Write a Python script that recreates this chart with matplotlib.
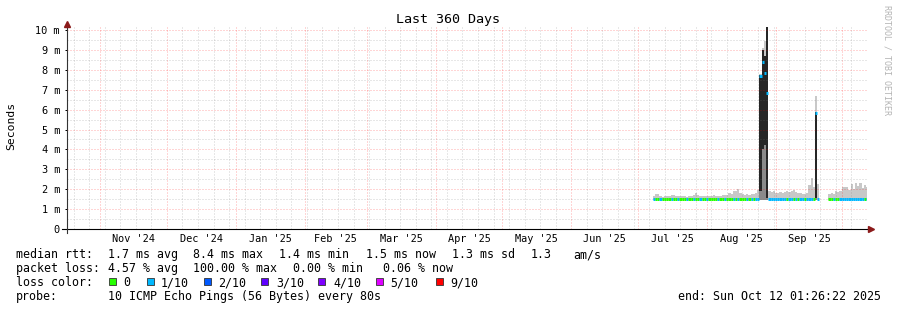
import numpy as np
import pandas as pd
import matplotlib
matplotlib.use("Agg")
import matplotlib.pyplot as plt
from matplotlib.patches import Rectangle

plt.rcParams["font.family"] = ["DejaVu Sans Mono"]

# graph time window
graph_end = pd.Timestamp("2025-10-12 01:26:22")
graph_start = graph_end - pd.Timedelta(days=360)

# consolidated samples, one per day, starting here
first_sample = pd.Timestamp("2025-07-07 16:00")

nan = np.nan

# median rtt (ms)
median_ms = [
    1.50, 1.50, 1.51, 1.50, 1.49, 1.50, 1.50, 1.50, 1.51, 1.50,
    1.50, 1.49, 1.50, 1.50, 1.50, 1.50, 1.51, 1.50, 1.50, 1.52,
    1.50, 1.50, 1.49, 1.50, 1.50, 1.50, 1.50, 1.51, 1.50, 1.50,
    1.50, 1.50, 1.51, 1.50, 1.51, 1.50, 1.52, 1.51, 1.52, 1.50,
    1.50, 1.50, 1.50, 1.49, 1.50, 1.50, 1.51, 1.52,
    7.70, 8.40, 7.85, 6.85,
    1.51, 1.50, 1.50, 1.50, 1.50, 1.50, 1.50, 1.51, 1.50, 1.50,
    1.51, 1.51, 1.50, 1.50, 1.50, 1.50, 1.49, 1.50, 1.51, 1.52,
    1.51, 5.85, 1.51,
    nan, nan, nan, nan,
    1.50, 1.50, 1.50, 1.51, 1.50, 1.51, 1.51, 1.52, 1.51, 1.50,
    1.52, 1.51, 1.52, 1.51, 1.52, 1.51, 1.51, 1.51,
]

# top of the smoke (max ping, ms)
smoke_hi_ms = [
    1.65, 1.75, 1.75, 1.65, 1.62, 1.65, 1.63, 1.65, 1.70, 1.68,
    1.64, 1.66, 1.63, 1.65, 1.64, 1.62, 1.67, 1.66, 1.68, 1.82,
    1.72, 1.66, 1.64, 1.67, 1.65, 1.63, 1.66, 1.68, 1.64, 1.66,
    1.65, 1.70, 1.72, 1.69, 1.78, 1.76, 1.92, 1.88, 1.98, 1.80,
    1.75, 1.72, 1.74, 1.70, 1.76, 1.74, 1.78, 1.95,
    7.80, 9.10, 9.45, 10.15,
    1.92, 1.85, 1.88, 1.80, 1.78, 1.84, 1.82, 1.86, 1.88, 1.84,
    1.90, 1.95, 1.86, 1.78, 1.80, 1.76, 1.74, 1.80, 2.20, 2.55,
    2.10, 6.70, 2.25,
    nan, nan, nan, nan,
    1.75, 1.78, 1.76, 1.90, 1.85, 1.92, 2.10, 2.12, 2.08, 1.95,
    2.25, 2.00, 2.30, 2.15, 2.28, 2.05, 2.20, 2.10,
]
smoke_lo_ms = 1.43

# lost pings out of 10
loss = [
    1, 0, 0, 1, 0, 0, 0, 0, 1, 0, 0, 1, 0, 0, 0, 1, 0, 0, 1, 0,
    0, 1, 0, 0, 1, 0, 0, 0, 0, 1, 0, 0, 1, 0, 0, 0, 1, 0, 1, 0,
    0, 0, 1, 0, 1, 0, 1, 1,
    1, 1, 1, 1,
    1, 1, 1, 1, 1, 1, 1, 1, 0, 1, 1, 0, 1, 0, 1, 1, 0, 1, 1, 1,
    0, 1, 1,
    0, 0, 0, 0,
    0, 0, 1, 0, 0, 1, 1, 1, 1, 1, 1, 1, 1, 1, 1, 1, 0, 1,
]

# dense smoke in the spikes
core_idx = [48, 49, 50, 51, 73]
core_lo_ms = [1.90, 4.00, 4.20, 1.55, 1.55]
core_hi_ms = [7.75, 9.00, 8.70, 10.15, 5.90]

loss_steps = [0, 1, 2, 3, 4, 5, 9]
loss_names = ["0", "1/10", "2/10", "3/10", "4/10", "5/10", "9/10"]
loss_colors = ["#26ff00", "#00b8ff", "#0059ff", "#5e00ff", "#7e00ff", "#dd00ff", "#ff0000"]

y_ticks = [0, 1, 2, 3, 4, 5, 6, 7, 8, 9, 10]
y_labels = ["0", "1 m", "2 m", "3 m", "4 m", "5 m", "6 m", "7 m", "8 m", "9 m", "10 m"]
month_starts = pd.date_range("2024-11-01", "2025-10-01", freq="MS")
month_labels = ["Nov '24", "Dec '24", "Jan '25", "Feb '25", "Mar '25", "Apr '25",
                "May '25", "Jun '25", "Jul '25", "Aug '25", "Sep '25"]
week_starts = pd.date_range("2024-10-20", "2025-10-12", freq="7D")


def days(t):
    return (t - graph_start) / pd.Timedelta(days=1)


W, H = 897, 310
fig = plt.figure(figsize=(W / 100, H / 100), dpi=100)
fig.patch.set_facecolor("white")
ax = fig.add_axes([67 / W, (H - 228.7) / H, 800 / W, (228.7 - 26) / H])
ax.set_xlim(0, 360)
ax.set_ylim(0, 10.22)
for s in ax.spines.values():
    s.set_visible(False)

x = days(first_sample) + np.arange(len(median_ms))
med = np.array(median_ms)
hi = np.array(smoke_hi_ms)

# smoke
ax.bar(x, hi - smoke_lo_ms, bottom=smoke_lo_ms, width=1.0, align="edge",
       color="#c8c8c8", linewidth=0, antialiased=False, zorder=1)
cx = x[core_idx]
ax.bar(cx, np.array(core_lo_ms) - smoke_lo_ms, bottom=smoke_lo_ms, width=1.0,
       align="edge", color="#8a8a8a", linewidth=0, antialiased=False, zorder=1.1)
ax.bar(cx, np.array(core_hi_ms) - np.array(core_lo_ms), bottom=core_lo_ms,
       width=1.0, align="edge", color="#262626", linewidth=0,
       antialiased=False, zorder=1.2)

# grid, dotted, drawn over the smoke (minor lines skipped under major ones)
mgrid = (1.0, 0.0, 0.0, 0.33)
grid = (0.45, 0.45, 0.45, 0.33)
dots = (0, (1, 2))
gkw = dict(lw=0.72, ls=dots, zorder=2)
for v in y_ticks:
    ax.axhline(v + 0.5, color=grid, **gkw)
month_days = [days(t) for t in month_starts]
for t in week_starts:
    d = days(t)
    if min(abs(d - m) for m in month_days) > 0.5:
        ax.axvline(d, color=grid, **gkw)
for v in y_ticks[1:]:
    ax.axhline(v, color=mgrid, **gkw)
for d in month_days:
    ax.axvline(d, color=mgrid, **gkw)

# median line coloured by loss
cols = []
for k in loss:
    c = loss_colors[0]
    for step, col in zip(loss_steps, loss_colors):
        if k >= step:
            c = col
    cols.append(c)
ax.hlines(med, x, x + 1.0, colors=cols, lw=2.16, zorder=3,
          capstyle="butt")

# axes with arrows
ax.plot([-5 / 800, 802 / 800], [0, 0], transform=ax.transAxes, color="black",
        lw=0.8, clip_on=False, zorder=4)
ax.plot([0, 0], [-0.02, 1.005], transform=ax.transAxes, color="#333333",
        lw=0.8, clip_on=False, zorder=4)
ax.plot([1.005], [0], marker=">", ms=4, color="#8b1a1a", transform=ax.transAxes,
        clip_on=False, zorder=5)
ax.plot([0], [1.012], marker="^", ms=4, color="#8b1a1a", transform=ax.transAxes,
        clip_on=False, zorder=5)

ax.set_yticks(y_ticks, y_labels)
ax.tick_params(axis="y", length=1.5, width=0.72, direction="out", pad=3.6,
               labelsize=7.4)
mids = [a + (b - a) / 2 for a, b in zip(month_days[:-1], month_days[1:])]
ax.set_xticks(mids, month_labels)
ax.tick_params(axis="x", length=0, pad=4.0, labelsize=7.4)

# titles
fig.text(448 / W, 1 - 19 / H, "Last 360 Days", ha="center", va="center", fontsize=9.6)
fig.text(11 / W, 1 - 126 / H, "Seconds", rotation=90, ha="center", va="center",
         fontsize=8.2)
fig.text(886.5 / W, 1 - 60 / H, "RRDTOOL / TOBI OETIKER", rotation=270,
         ha="center", va="center", fontsize=6, color="#b4b4b4")

# legend
def put(px, py, s):
    fig.text(px / W, 1 - py / H, s, ha="left", va="baseline", fontsize=8.4)


put(16, 258, "median rtt:")
for px, s in [(108, "1.7 ms avg"), (193, "8.4 ms max"), (279, "1.4 ms min"),
              (366, "1.5 ms now"), (452, "1.3 ms sd"), (531, "1.3"), (573, "am/s")]:
    put(px, 258, s)
put(16, 272, "packet loss:")
for px, s in [(108, "4.57 % avg"), (193, "100.00 % max"), (293, "0.00 % min"),
              (383, "0.06 % now")]:
    put(px, 272, s)
put(16, 286, "loss color:")
box_x = [109, 147, 204, 261, 318, 376, 436]
text_x = [123, 161, 218, 276, 333, 390, 450]
for bx, tx, c, name in zip(box_x, text_x, loss_colors, loss_names):
    fig.add_artist(Rectangle((bx / W, 1 - 285 / H), 7 / W, 7 / H,
                             transform=fig.transFigure, facecolor=c,
                             edgecolor="#333333", lw=0.6))
    put(tx, 286, name)
put(16, 300, "probe:")
put(108, 300, "10 ICMP Echo Pings (56 Bytes) every 80s")
put(678, 300, "end: Sun Oct 12 01:26:22 2025")

fig.savefig("out.png", dpi=100, facecolor="white")
